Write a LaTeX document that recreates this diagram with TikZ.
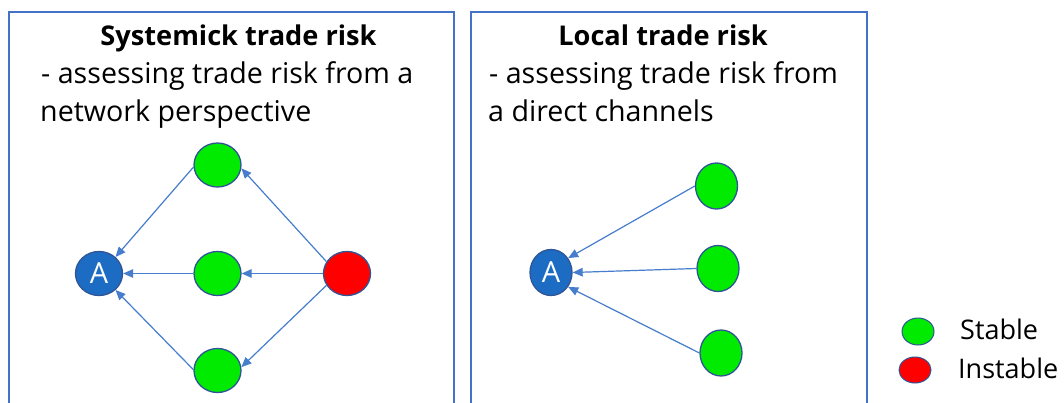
\documentclass[tikz,border=0pt]{standalone}
\usepackage{fontspec}
\setmainfont{Open Sans}
\usetikzlibrary{arrows.meta,shapes.geometric}
\definecolor{boxblue}{RGB}{68,114,196}
\definecolor{edgeblue}{RGB}{70,125,205}
\definecolor{nodeborder}{RGB}{47,85,151}
\definecolor{afill}{RGB}{28,108,196}
\definecolor{gfill}{RGB}{0,235,0}
\definecolor{rfill}{RGB}{255,0,0}
\begin{document}
\begin{tikzpicture}[x=1pt,y=-1pt,
  panel/.style={draw=boxblue,line width=1.2pt},
  basenode/.style={ellipse,draw=nodeborder,line width=1.3pt,inner sep=0pt,minimum width=47pt,minimum height=44pt},
  anode/.style={basenode,fill=afill,text=white,font=\fontsize{29}{29}\selectfont},
  gnode/.style={basenode,fill=gfill},
  rnode/.style={basenode,fill=rfill},
  arr/.style={draw=edgeblue,line width=1.2pt,-{Triangle[length=10pt,width=8.5pt]}},
  ttl/.style={font=\fontsize{27.2}{27.2}\selectfont\bfseries,anchor=base,inner sep=0pt},
  bodytext/.style={font=\fontsize{28.6}{28.6}\selectfont,anchor=base west,inner sep=0pt},
  legtext/.style={font=\fontsize{27}{27}\selectfont,anchor=base west,inner sep=0pt},
]
\useasboundingbox (0,0) rectangle (1064,403);
\fill[white] (0,0) rectangle (1064,403);
\clip (0,0) rectangle (1064,403);

% panels
\draw[panel] (9,12) rectangle (454,430);
\draw[panel] (471,12) rectangle (867,430);

% texts
\node[ttl] (lt) at (238.5,46) {Systemick trade risk};
\node[bodytext] (ls1) at (41,84) {- assessing trade risk from a};
\node[bodytext] (ls2) at (40,122) {network perspective};
\node[ttl] (rt) at (663,46) {Local trade risk};
\node[bodytext] (rs1) at (489,84) {- assessing trade risk from};
\node[bodytext] (rs2) at (488,122) {a direct channels};

% left network
\node[anode] (lA) at (99,273.5) {A};
\node[gnode] (l1) at (217.5,165) {};
\node[gnode] (l2) at (217.5,273.5) {};
\node[gnode] (l3) at (217.5,370.5) {};
\node[rnode] (lr) at (347,273.5) {};
\draw[arr] (l1.185) -- (lA.45);
\draw[arr] (l2) -- (lA);
\draw[arr] (l3.178) -- (lA.-45);
\draw[arr] (lr.150) -- (l1.-8);
\draw[arr] (lr) -- (l2);
\draw[arr] (lr.210) -- (l3.8);

% right network
\node[anode,minimum width=42pt,minimum height=46pt] (rA) at (551,272.5) {A};
\node[gnode,minimum width=42pt,minimum height=46pt] (r1) at (716.5,186) {};
\node[gnode,minimum width=42pt,minimum height=46pt] (r2) at (718,268.5) {};
\node[gnode,minimum width=42pt,minimum height=46pt] (r3) at (721,353) {};
\draw[arr] (r1.180) -- (rA.40);
\draw[arr] (r2.west) -- (rA.east);
\draw[arr] (r3.180) -- (rA.-40);

% legend
\node[gnode,minimum width=32pt,minimum height=27pt,line width=1pt] (lgs) at (918,331.5) {};
\node[rnode,minimum width=32pt,minimum height=26pt,line width=1pt] (lgi) at (915,370) {};
\node[legtext] (lgst) at (960,339) {Stable};
\node[legtext] (lgit) at (958,378) {Instable};
\end{tikzpicture}
\end{document}
